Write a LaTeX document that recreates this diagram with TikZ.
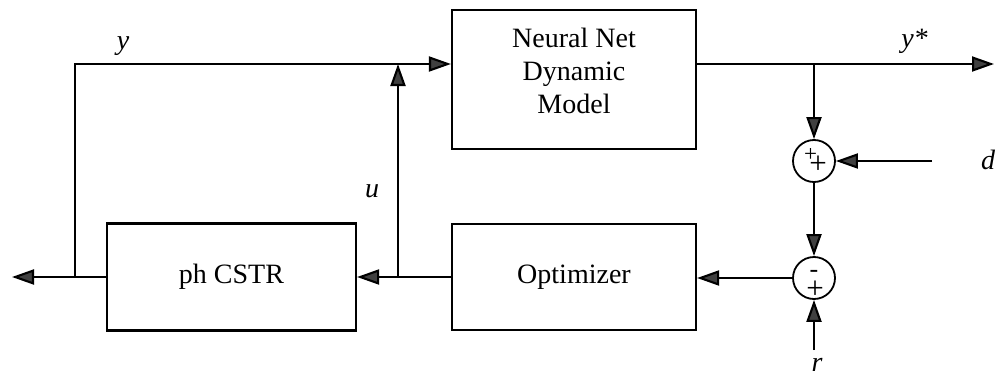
\documentclass[tikz,border=0pt]{standalone}
\usepackage{fontspec}
\setmainfont{Liberation Serif}
\usetikzlibrary{arrows.meta,calc}
\begin{document}
\begin{tikzpicture}[x=1pt,y=1pt,
  blk/.style={draw, line width=2.2pt, inner sep=0pt},
  sumnode/.style={draw, circle, line width=1.8pt, minimum size=42pt, inner sep=0pt},
  wire/.style={line width=2.1pt},
  arr/.style={wire, -{Triangle[length=22pt,width=15pt,fill=black!75]}},
  lbl/.style={font=\fontsize{28}{33}\selectfont\itshape, inner sep=0pt},
  txt/.style={font=\fontsize{28}{33}\selectfont, align=center, inner sep=0pt},
  sgn/.style={font=\fontsize{31}{31}\selectfont, inner sep=0pt, text height=6pt, text depth=0pt}]
\useasboundingbox (0,0) rectangle (996,376);

% blocks
\node[blk, minimum width=244pt, minimum height=139pt] (nn) at (574,296.5) {};
\node[txt] (nntext) at (574,305) {Neural Net\\Dynamic\\Model};
\node[blk, txt, minimum width=244pt, minimum height=106pt] (opt) at (574,99) {Optimizer};
\node[blk, txt, minimum width=249pt, minimum height=107pt] (cstr) at (231.5,99) {ph CSTR};

% summing junctions
\node[sumnode] (s1) at (814,215) {};
\node[sumnode] (s2) at (814,98) {};
\node[sgn, font=\fontsize{23}{23}\selectfont] (s1a) at ($(s1)+(-3.5,3)$) {+};
\node[sgn] (s1b) at ($(s1)+(4,-9)$) {+};
\node[sgn, font=\fontsize{26}{26}\selectfont] (s2a) at ($(s2)+(0,3.5)$) {-};
\node[sgn] (s2b) at ($(s2)+(1,-17)$) {+};

% junction points and free ends
\coordinate (topl) at (75,312);
\coordinate (leftend) at (12,99);
\coordinate (branchL) at (75,99);
\coordinate (uj) at (398,99);
\coordinate (ut) at (398,312);
\coordinate (ybr) at (814,312);
\coordinate (outend) at (994,312);
\coordinate (din) at (932,215);
\coordinate (rin) at (814,26);

% signal lines
\draw[arr] (cstr.west) -- (leftend);
\draw[arr] (branchL) -- (topl) -- (nn.west |- topl);
\draw[arr] (opt.west) -- (cstr.east);
\draw[arr] (uj) -- (ut);
\draw[arr] (nn.east |- ybr) -- (outend);
\draw[arr] (ybr) -- (s1.north);
\draw[arr] (din) -- (s1.east);
\draw[arr] (s1.south) -- (s2.north);
\draw[arr] (s2.west) -- (opt.east |- s2.west);
\draw[arr] (rin) -- (s2.south);

% signal labels
\node[lbl] (ylab) at (123,330) {y};
\node[lbl] (ulab) at (372,185) {u};
\node[lbl] (ystar) at (914.5,334.5) {y*};
\node[lbl, anchor=west] (dlab) at (981,216) {d};
\node[lbl] (rlab) at (817,11) {r};
\end{tikzpicture}
\end{document}
